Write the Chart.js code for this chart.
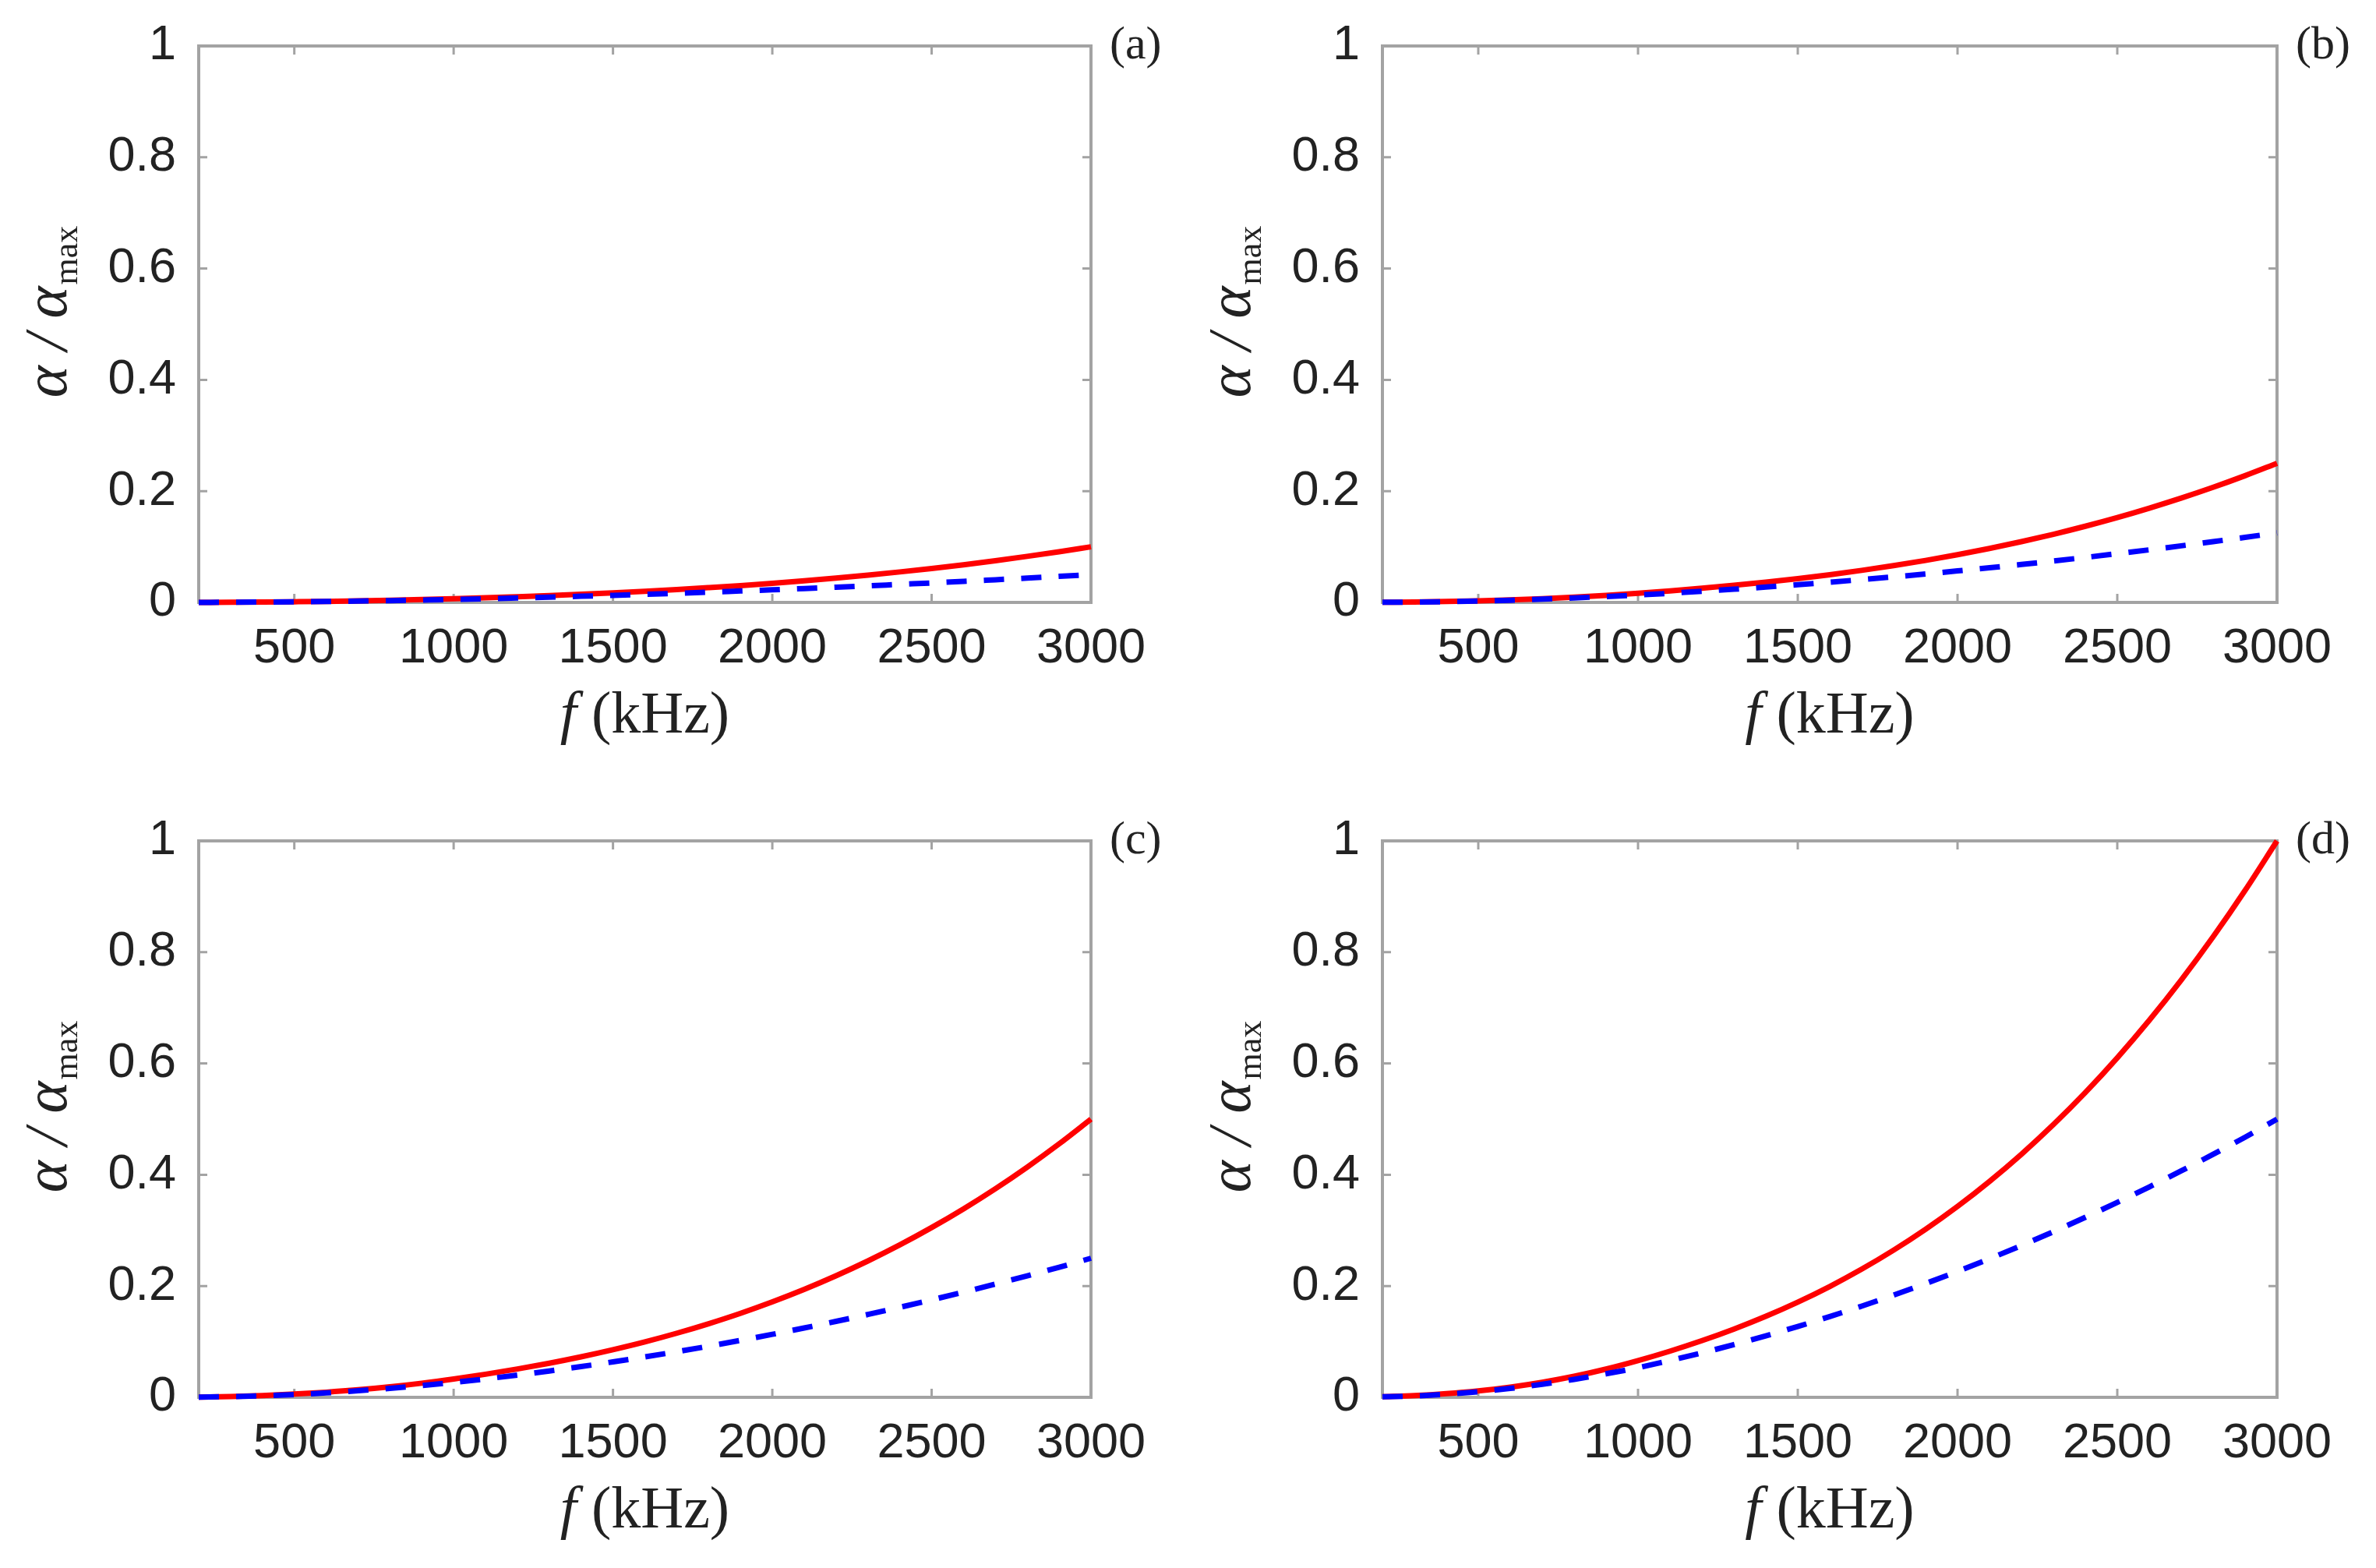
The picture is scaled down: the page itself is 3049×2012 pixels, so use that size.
<!DOCTYPE html>
<html>
<head>
<meta charset="utf-8">
<script src="https://cdn.jsdelivr.net/npm/chart.js@4.4.1/dist/chart.umd.min.js"></script>
<style>
  body { margin: 0; background: #fff; }
  #pagina { position: relative; width: 3049px; height: 2012px; background: #fff; }
  canvas { position: absolute; }
</style>
</head>
<body>
<div id="pagina">
  <canvas id="painelA" width="1524" height="1006" style="left:0px;top:0px"></canvas>
  <canvas id="painelB" width="1525" height="1006" style="left:1524px;top:0px"></canvas>
  <canvas id="painelC" width="1524" height="1006" style="left:0px;top:1006px"></canvas>
  <canvas id="painelD" width="1525" height="1006" style="left:1524px;top:1006px"></canvas>
</div>
<script>
// Frequencias (kHz)
var frequencias = [200, 300, 400, 500, 600, 700, 800, 900, 1000, 1100, 1200, 1300, 1400, 1500,
    1600, 1700, 1800, 1900, 2000, 2100, 2200, 2300, 2400, 2500, 2600, 2700, 2800, 2900, 3000];

// Ticks dos eixos
var ticksX = [500, 1000, 1500, 2000, 2500, 3000];
var ticksY = [0, 0.2, 0.4, 0.6, 0.8, 1];

// (a) curva vermelha (continua) e azul (tracejada)
var vermelhoA = [0.0001, 0.0003, 0.0007, 0.0012, 0.0018, 0.0027, 0.0038, 0.0051, 0.0066, 0.0083, 0.0102, 0.0123, 0.0146, 0.0171,
    0.0199, 0.0230, 0.0265, 0.0302, 0.0343, 0.0388, 0.0437, 0.0490, 0.0548, 0.0610, 0.0677, 0.0750, 0.0828, 0.0911, 0.100];
var azulA = [0.0001, 0.0003, 0.0006, 0.0010, 0.0016, 0.0024, 0.0032, 0.0042, 0.0053, 0.0066, 0.0080, 0.0095, 0.0111, 0.0127,
    0.0145, 0.0164, 0.0184, 0.0205, 0.0226, 0.0249, 0.0273, 0.0298, 0.0324, 0.0350, 0.0378, 0.0407, 0.0437, 0.0468, 0.0500];

// (b)
var vermelhoB = [0.0003, 0.0008, 0.0016, 0.0029, 0.0046, 0.0068, 0.0095, 0.0127, 0.0165, 0.0208, 0.0255, 0.0307, 0.0364, 0.0428,
    0.0498, 0.0576, 0.0661, 0.0755, 0.0858, 0.0970, 0.1092, 0.1225, 0.1369, 0.1525, 0.1694, 0.1875, 0.2069, 0.2278, 0.250];
var azulB = [0.0003, 0.0006, 0.0014, 0.0025, 0.0040, 0.0059, 0.0081, 0.0106, 0.0133, 0.0165, 0.0200, 0.0237, 0.0276, 0.0318,
    0.0363, 0.0410, 0.0459, 0.0511, 0.0566, 0.0623, 0.0682, 0.0744, 0.0809, 0.0876, 0.0945, 0.1017, 0.1092, 0.1169, 0.125];

// (c)
var vermelhoC = [0.0005, 0.0015, 0.0033, 0.0058, 0.0092, 0.0135, 0.0189, 0.0254, 0.033, 0.0415, 0.0509, 0.0613, 0.0728, 0.0856,
    0.0996, 0.1152, 0.1323, 0.151, 0.1716, 0.194, 0.2185, 0.2451, 0.2739, 0.3051, 0.3387, 0.3749, 0.4138, 0.4555, 0.500];
var azulC = [0.0005, 0.0013, 0.0028, 0.005, 0.008, 0.0118, 0.0162, 0.0212, 0.0267, 0.0331, 0.040, 0.0474, 0.0553, 0.0637,
    0.0726, 0.082, 0.0919, 0.1023, 0.1132, 0.1246, 0.1365, 0.1489, 0.1618, 0.1752, 0.1891, 0.2035, 0.2184, 0.2338, 0.250];

// (d)
var vermelhoD = [0.001, 0.003, 0.0065, 0.0115, 0.0183, 0.027, 0.0378, 0.0508, 0.066, 0.083, 0.1018, 0.1226, 0.1456, 0.1711,
    0.1992, 0.2303, 0.2645, 0.302, 0.3431, 0.388, 0.4369, 0.4901, 0.5477, 0.6101, 0.6774, 0.7498, 0.8276, 0.911, 1.000];
var azulD = [0.001, 0.0025, 0.0055, 0.010, 0.016, 0.0235, 0.0323, 0.0423, 0.0533, 0.0661, 0.0799, 0.0947, 0.1105, 0.1273,
    0.1451, 0.1639, 0.1837, 0.2045, 0.2263, 0.2491, 0.2729, 0.2977, 0.3235, 0.3503, 0.3781, 0.4069, 0.4367, 0.4675, 0.500];

var corTexto = '#222222';
var corEixo = '#a3a3a3';

// Caixa em volta do grafico com ticks para dentro (estilo MATLAB)
var pluginCaixa = {
    id: 'caixa',
    beforeDatasetsDraw: function (chart) {
        var ctx = chart.ctx;
        var area = chart.chartArea;
        var escX = chart.scales.x;
        var escY = chart.scales.y;
        ctx.save();
        ctx.strokeStyle = corEixo;
        ctx.lineWidth = 4;
        ctx.strokeRect(area.left, area.top, area.right - area.left, area.bottom - area.top);
        ctx.lineWidth = 3;
        ctx.beginPath();
        ticksX.forEach(function (v) {
            var px = escX.getPixelForValue(v);
            ctx.moveTo(px, area.bottom); ctx.lineTo(px, area.bottom - 11);
            ctx.moveTo(px, area.top); ctx.lineTo(px, area.top + 11);
        });
        ticksY.forEach(function (v) {
            var py = escY.getPixelForValue(v);
            ctx.moveTo(area.left, py); ctx.lineTo(area.left + 11, py);
            ctx.moveTo(area.right, py); ctx.lineTo(area.right - 11, py);
        });
        ctx.stroke();
        ctx.restore();
    },
    afterDraw: function (chart, args, opts) {
        var ctx = chart.ctx;
        var area = chart.chartArea;
        ctx.save();
        ctx.fillStyle = corTexto;

        // Titulo do eixo x: f (kHz)
        ctx.textBaseline = 'alphabetic';
        ctx.font = 'italic 76px "Liberation Serif"';
        var wF = ctx.measureText('f').width;
        ctx.font = '76px "Liberation Serif"';
        var wK = ctx.measureText(' (kHz)').width;
        var x0 = (area.left + area.right) / 2 - (wF + wK) / 2;
        var yBase = area.bottom + 167;
        ctx.font = 'italic 76px "Liberation Serif"';
        ctx.fillText('f', x0, yBase);
        ctx.font = '76px "Liberation Serif"';
        ctx.fillText(' (kHz)', x0 + wF, yBase);

        // Titulo do eixo y: alpha / alpha_max
        ctx.save();
        ctx.translate(area.left - 170, (area.top + area.bottom) / 2 - 15);
        ctx.rotate(-Math.PI / 2);
        ctx.font = 'italic 78px "Liberation Serif"';
        var principal = 'α / α';
        var wP = ctx.measureText(principal).width;
        ctx.font = '44px "Liberation Serif"';
        var wS = ctx.measureText('max').width;
        var inicio = -(wP + wS) / 2;
        ctx.font = 'italic 78px "Liberation Serif"';
        ctx.fillText(principal, inicio, 0);
        ctx.font = '44px "Liberation Serif"';
        ctx.fillText('max', inicio + wP + 2, 14);
        ctx.restore();

        // Letra do painel
        ctx.font = '60px "Liberation Serif"';
        ctx.textBaseline = 'middle';
        ctx.textAlign = 'left';
        ctx.fillText(opts.letra, area.right + 24, area.top);
        ctx.restore();
    }
};

function pontos(valores) {
    return frequencias.map(function (f, i) { return { x: f, y: valores[i] }; });
}

function criaPainel(id, letra, vermelho, azul, padTopo, padDireita, larguraY, alturaX) {
    var ctx = document.getElementById(id).getContext('2d');
    return new Chart(ctx, {
        type: 'line',
        data: {
            datasets: [
                {
                    label: 'vermelho',
                    data: pontos(vermelho),
                    borderColor: '#ff0000',
                    borderWidth: 7,
                    pointRadius: 0,
                    cubicInterpolationMode: 'monotone',
                    fill: false,
                    clip: false,
                    order: 2
                },
                {
                    label: 'azul',
                    data: pontos(azul),
                    borderColor: '#0000ff',
                    borderWidth: 7,
                    borderDash: [26, 22],
                    pointRadius: 0,
                    cubicInterpolationMode: 'monotone',
                    fill: false,
                    clip: false,
                    order: 1
                }
            ]
        },
        options: {
            responsive: false,
            animation: false,
            devicePixelRatio: 1,
            layout: {
                padding: { left: 0, top: padTopo, right: padDireita, bottom: 0 }
            },
            plugins: {
                legend: { display: false },
                tooltip: { enabled: false },
                caixa: { letra: letra }
            },
            scales: {
                x: {
                    type: 'linear',
                    min: 200,
                    max: 3000,
                    grid: { display: false, drawTicks: false },
                    border: { display: false },
                    afterBuildTicks: function (esc) {
                        esc.ticks = ticksX.map(function (v) { return { value: v }; });
                    },
                    afterFit: function (esc) {
                        esc.height = alturaX;
                        esc.paddingLeft = 0;
                        esc.paddingRight = 0;
                    },
                    ticks: {
                        color: corTexto,
                        padding: 22,
                        maxRotation: 0,
                        autoSkip: false,
                        font: { family: 'Liberation Sans', size: 63 },
                        callback: function (v) { return String(v); }
                    }
                },
                y: {
                    type: 'linear',
                    min: 0,
                    max: 1,
                    grid: { display: false, drawTicks: false },
                    border: { display: false },
                    afterBuildTicks: function (esc) {
                        esc.ticks = ticksY.map(function (v) { return { value: v }; });
                    },
                    afterFit: function (esc) {
                        esc.width = larguraY;
                        esc.paddingTop = 0;
                        esc.paddingBottom = 0;
                    },
                    ticks: {
                        color: corTexto,
                        padding: 29,
                        autoSkip: false,
                        font: { family: 'Liberation Sans', size: 63 },
                        callback: function (v) { return String(Math.round(v * 10) / 10); }
                    }
                }
            }
        },
        plugins: [pluginCaixa]
    });
}

criaPainel('painelA', '(a)', vermelhoA, azulA, 59, 124, 255, 233);
criaPainel('painelB', '(b)', vermelhoB, azulB, 59, 127, 250, 233);
criaPainel('painelC', '(c)', vermelhoC, azulC, 73, 124, 255, 219);
criaPainel('painelD', '(d)', vermelhoD, azulD, 73, 127, 250, 219);
</script>
</body>
</html>
